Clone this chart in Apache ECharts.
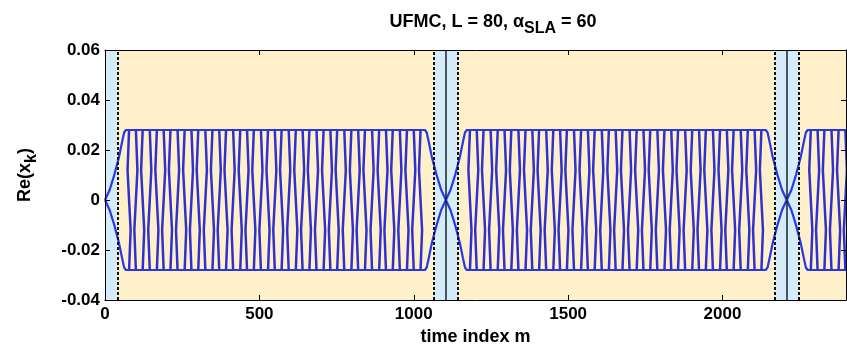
<!DOCTYPE html>
<html>
<head>
<meta charset="utf-8">
<script src="https://cdn.jsdelivr.net/npm/echarts@6/dist/echarts.min.js"></script>
<style>
html, body { margin: 0; padding: 0; background: #fff; }
#chart { width: 847px; height: 352px; }
</style>
</head>
<body>
<div id="chart"></div>
<script>
// symbol layout along time index m
const symbolStarts = [0, 1104, 2208];
const symbolLen = 1104;
const guardZones = [[0, 40], [1064, 1144], [2168, 2248]];
const dataZones = [[40, 1064], [1144, 2168], [2248, 2400]];
const dashedLines = [40, 1064, 1144, 2168, 2248];
const solidLines = [1104, 2208];

// filter ramp at each symbol edge (offset from edge, envelope of Re(x_k))
const rampOffset = [0, 15, 30, 45, 55, 62, 68];
const rampAmp = [0, 0.004, 0.010, 0.017, 0.023, 0.027, 0.028];

// positions of the oscillation strokes inside one symbol (offset from symbol start)
const strokeOffsets = [78, 100, 122, 145, 168, 190, 212, 235, 258, 280, 302, 325, 348, 370, 392,
    415, 438, 460, 482, 505, 528, 550, 572, 595, 618, 640, 662, 685, 708, 730, 752,
    775, 798, 820, 842, 865, 888, 910, 932, 955, 978, 1000, 1022];
const peakAmp = 0.028;

const blue = '#3030cc';
const font = 'Liberation Sans';

/**
 * 包络线(每个符号一条闭合折线)
 */
function buildEnvelope(start) {
    const up = rampOffset.map((o, i) => [start + o, rampAmp[i]]);
    const down = rampOffset.map((o, i) => [start + symbolLen - o, rampAmp[i]]).reverse();
    const top = up.concat(down);
    const bottom = top.map(p => [p[0], -p[1]]).reverse();
    return top.concat(bottom);
}

/**
 * 振荡竖线
 */
function buildStrokes(start) {
    const out = [];
    strokeOffsets.forEach((o, i) => {
        const x = start + o;
        const w = i % 2 ? 5 : -5;
        out.push([x, peakAmp], [x + w, 0.012], [x - w, -0.012], [x, -peakAmp], [x, '-']);
    });
    return out;
}

const waveSeries = [];
symbolStarts.forEach(s => {
    waveSeries.push({
        type: 'line', data: buildEnvelope(s), symbol: 'none', z: 3,
        lineStyle: { color: '#2438e8', width: 2.2 }, silent: true, animation: false
    });
    waveSeries.push({
        type: 'line', data: buildStrokes(s), symbol: 'none', z: 3, connectNulls: false,
        lineStyle: { color: blue, width: 2.5 }, silent: true, animation: false
    });
});

const areaData = guardZones.map(z => [{ xAxis: z[0], itemStyle: { color: '#d6ecf8' } }, { xAxis: z[1] }])
    .concat(dataZones.map(z => [{ xAxis: z[0], itemStyle: { color: '#fff0cc' } }, { xAxis: z[1] }]));

const lineData = dashedLines.map(x => ({ xAxis: x, lineStyle: { type: [3, 2], color: '#111', width: 2 } }))
    .concat(solidLines.map(x => ({ xAxis: x, lineStyle: { type: 'solid', color: '#13262c', width: 1.5 } })));

const chartDom = document.getElementById('chart');
const myChart = echarts.init(chartDom);

const labelStyle = { fontFamily: font, fontWeight: 'bold', fontSize: 17, color: '#000' };

myChart.setOption({
    animation: false,
    title: {
        text: '{a|UFMC, L = 80, α}{s|SLA}{a| = 60}',
        left: 488,
        top: 8,
        textAlign: 'center',
        textStyle: {
            rich: {
                a: { fontFamily: font, fontWeight: 'bold', fontSize: 18, color: '#000', verticalAlign: 'top', lineHeight: 22 },
                s: { fontFamily: font, fontWeight: 'bold', fontSize: 16, color: '#000', verticalAlign: 'top', padding: [8, 0, 0, 0] }
            }
        }
    },
    grid: { left: 105, right: 1, top: 50, bottom: 52 },
    xAxis: [{
        type: 'value', min: 0, max: 2400, interval: 500, z: 10,
        axisLine: { show: true, onZero: false, lineStyle: { color: '#000', width: 1 } },
        axisTick: { inside: true, length: 5, lineStyle: { color: '#000' } },
        axisLabel: Object.assign({ margin: 6, showMaxLabel: false, formatter: v => String(v) }, labelStyle),
        splitLine: { show: false },
        name: 'time index m', nameLocation: 'middle', nameGap: 27,
        nameTextStyle: { fontFamily: font, fontWeight: 'bold', fontSize: 18, color: '#000' }
    }, {
        type: 'value', min: 0, max: 2400, interval: 500, position: 'top', z: 10,
        axisLine: { show: true, onZero: false, lineStyle: { color: '#000', width: 1 } },
        axisTick: { inside: true, length: 5, lineStyle: { color: '#000' } },
        axisLabel: { show: false }, splitLine: { show: false }
    }],
    yAxis: [{
        type: 'value', min: -0.04, max: 0.06, interval: 0.02, z: 10,
        axisLine: { show: true, onZero: false, lineStyle: { color: '#000', width: 1 } },
        axisTick: { inside: true, length: 5, lineStyle: { color: '#000' } },
        axisLabel: Object.assign({
            margin: 5,
            formatter: v => Math.abs(v) < 1e-9 ? '0' : v.toFixed(2)
        }, labelStyle),
        splitLine: { show: false },
        name: '{a|Re(x}{s|k}{a|)}', nameLocation: 'middle', nameGap: 65, nameRotate: 90,
        nameTextStyle: {
            rich: {
                a: { fontFamily: font, fontWeight: 'bold', fontSize: 18, color: '#000', verticalAlign: 'top', lineHeight: 22 },
                s: { fontFamily: font, fontWeight: 'bold', fontSize: 16, color: '#000', verticalAlign: 'top', padding: [8, 0, 0, 0] }
            }
        }
    }, {
        type: 'value', min: -0.04, max: 0.06, interval: 0.02, position: 'right', z: 10,
        axisLine: { show: true, onZero: false, lineStyle: { color: '#000', width: 1 } },
        axisTick: { inside: true, length: 5, lineStyle: { color: '#000' } },
        axisLabel: { show: false }, splitLine: { show: false }
    }],
    series: [{
        type: 'line', data: [], z: 1, silent: true,
        markArea: { silent: true, data: areaData },
        markLine: { silent: true, symbol: 'none', label: { show: false }, data: lineData }
    }].concat(waveSeries)
});

window.onresize = function () {
    myChart.resize();
}
</script>
</body>
</html>
